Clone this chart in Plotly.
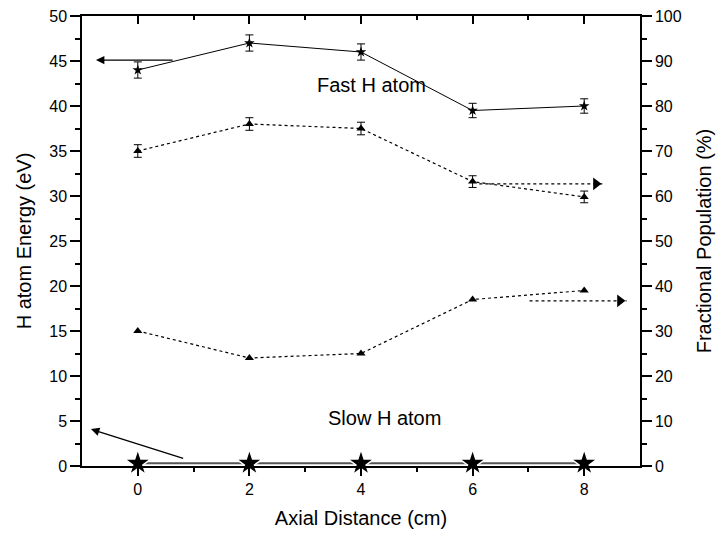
import plotly.graph_objects as go

# Data
distance = [0, 2, 4, 6, 8]
fast_energy = [44.0, 47.0, 46.0, 39.5, 40.0]
fast_energy_err = [0.9, 0.9, 0.9, 0.8, 0.8]
slow_energy = [0.3, 0.3, 0.3, 0.3, 0.3]
fast_fraction = [70, 76, 75, 63.2, 59.8]
fast_fraction_err = [1.4, 1.4, 1.4, 1.3, 1.3]
slow_fraction = [30, 24, 25, 37, 39]

# arrow indicator segments (data coords)
fast_pop_arrow_x = [6.12, 8.33]
fast_pop_arrow_y = [62.7, 62.7]
slow_pop_arrow_x = [7.02, 8.76]
slow_pop_arrow_y = [36.7, 36.7]

FONT = "Liberation Sans, Arial, sans-serif"

fig = go.Figure()

fig.add_trace(go.Scatter(
    x=distance, y=slow_energy, mode="lines+markers", cliponaxis=False,
    line=dict(color="#555555", width=2),
    marker=dict(symbol="star", size=20, color="black", line=dict(color="white", width=1.5)),
    showlegend=False))

fig.add_trace(go.Scatter(
    x=distance, y=fast_energy, mode="lines+markers",
    line=dict(color="black", width=1),
    marker=dict(symbol="star", size=8, color="black"),
    error_y=dict(type="data", array=fast_energy_err, color="black", thickness=1, width=4),
    showlegend=False))

fig.add_trace(go.Scatter(
    x=distance, y=fast_fraction, mode="lines+markers", yaxis="y2",
    line=dict(color="black", width=1.2, dash="dot"),
    marker=dict(symbol="triangle-up", size=8, color="black"),
    error_y=dict(type="data", array=fast_fraction_err, color="black", thickness=1, width=4),
    showlegend=False))

fig.add_trace(go.Scatter(
    x=distance, y=slow_fraction, mode="lines+markers", yaxis="y2",
    line=dict(color="black", width=1.2, dash="dot"),
    marker=dict(symbol="triangle-up", size=8, color="black"),
    showlegend=False))

for ax_x, ax_y in [(fast_pop_arrow_x, fast_pop_arrow_y), (slow_pop_arrow_x, slow_pop_arrow_y)]:
    fig.add_trace(go.Scatter(
        x=ax_x, y=ax_y, mode="lines", yaxis="y2",
        line=dict(color="black", width=1.2, dash="dot"), showlegend=False))
    fig.add_trace(go.Scatter(
        x=[ax_x[1] - 0.12], y=[ax_y[1]], mode="markers", yaxis="y2",
        marker=dict(symbol="triangle-right", size=11, color="black"), showlegend=False))

# dummy trace for top axis
fig.add_trace(go.Scatter(x=[0], y=[0], xaxis="x2", mode="markers",
                         marker=dict(opacity=0), showlegend=False, hoverinfo="skip"))

fig.add_annotation(x=-0.75, y=45.1, ax=0.65, ay=45.1, xref="x", yref="y", axref="x", ayref="y",
                   showarrow=True, arrowhead=2, arrowsize=1.3, arrowwidth=1.3, arrowcolor="black", text="")
fig.add_annotation(x=-0.84, y=4.1, ax=0.84, ay=0.8, xref="x", yref="y", axref="x", ayref="y",
                   showarrow=True, arrowhead=2, arrowsize=1.3, arrowwidth=1.3, arrowcolor="black", text="")
fig.add_annotation(x=4.18, y=42.3, text="Fast H atom", showarrow=False,
                   font=dict(family=FONT, size=20, color="black"))
fig.add_annotation(x=4.42, y=5.3, text="Slow H atom", showarrow=False,
                   font=dict(family=FONT, size=20, color="black"))

axis_common = dict(showgrid=False, zeroline=False, showline=True, linecolor="black", linewidth=1.5,
                   tickcolor="black", tickwidth=1.5, automargin=False,
                   tickfont=dict(family=FONT, size=16, color="black"))

fig.update_layout(
    width=717, height=540,
    margin=dict(l=82, r=77, t=16, b=74),
    paper_bgcolor="white", plot_bgcolor="white",
    font=dict(family=FONT, color="black"),
    xaxis=dict(range=[-1, 9], tickvals=[0, 2, 4, 6, 8], ticks="outside", ticklen=8,
               minor=dict(tickvals=[1, 3, 5, 7], ticks="outside", ticklen=4, tickcolor="black", tickwidth=1.5),
               title=dict(text="Axial Distance (cm)", font=dict(family=FONT, size=20), standoff=14),
               **axis_common),
    xaxis2=dict(range=[-1, 9], overlaying="x", side="top", tickvals=[0, 2, 4, 6, 8], ticks="inside",
                ticklen=8, showticklabels=False,
                minor=dict(tickvals=[1, 3, 5, 7], ticks="inside", ticklen=4, tickcolor="black", tickwidth=1.5),
                **axis_common),
    yaxis=dict(range=[0, 50], dtick=5, ticks="outside", ticklen=10,
               minor=dict(dtick=2.5, ticks="outside", ticklen=5, tickcolor="black", tickwidth=1.5),
               title=dict(text="H atom Energy (eV)", font=dict(family=FONT, size=20), standoff=12),
               **axis_common),
    yaxis2=dict(range=[0, 100], dtick=10, ticks="outside", ticklen=10, overlaying="y", side="right",
                minor=dict(dtick=5, ticks="outside", ticklen=5, tickcolor="black", tickwidth=1.5),
                title=dict(text="Fractional Population (%)", font=dict(family=FONT, size=20), standoff=16),
                **axis_common),
)

fig.write_html("out.html", config={"displayModeBar": False},
               post_script="document.body.style.margin='0';document.body.style.padding='0';")
